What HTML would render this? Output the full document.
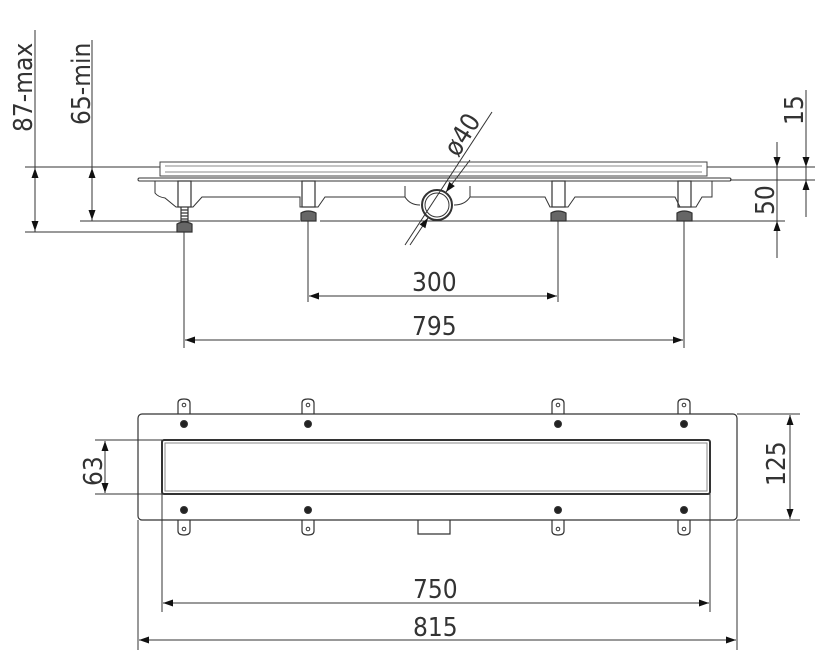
<!DOCTYPE html>
<html><head><meta charset="utf-8"><style>body{margin:0;background:#fff}svg{display:block}text{font-family:"DejaVu Sans Condensed","Liberation Sans",sans-serif;fill:#333;font-weight:300}</style></head><body>
<svg width="823" height="670" viewBox="0 0 823 670" xmlns="http://www.w3.org/2000/svg">
<defs>
<marker id="a" viewBox="0 0 10 10" refX="10" refY="5" markerWidth="12" markerHeight="10" markerUnits="userSpaceOnUse" orient="auto-start-reverse"><path d="M0,1.5 L10,5 L0,8.5 Z" fill="#111"/></marker>
</defs>
<g stroke="#333" stroke-width="1" fill="none">
<!-- side view reference lines -->
<line x1="25" y1="167" x2="160" y2="167"/>
<line x1="707" y1="167" x2="815" y2="167"/>
<line x1="730" y1="180" x2="815" y2="180"/>
<line x1="80" y1="221" x2="300" y2="221"/>
<line x1="320" y1="221" x2="785" y2="221"/>
<line x1="25" y1="232" x2="180" y2="232"/>
<!-- 87 max -->
<line x1="35" y1="30" x2="35" y2="232"/>
<line x1="35" y1="200" x2="35" y2="168" marker-end="url(#a)"/>
<line x1="35" y1="200" x2="35" y2="231" marker-end="url(#a)"/>
<!-- 65 min -->
<line x1="92" y1="40" x2="92" y2="221"/>
<line x1="92" y1="195" x2="92" y2="168" marker-end="url(#a)"/>
<line x1="92" y1="195" x2="92" y2="220" marker-end="url(#a)"/>
<!-- 15 -->
<line x1="806" y1="90" x2="806" y2="217"/>
<line x1="806" y1="140" x2="806" y2="167" marker-end="url(#a)"/>
<line x1="806" y1="210" x2="806" y2="180" marker-end="url(#a)"/>
<!-- 50 -->
<line x1="777" y1="142" x2="777" y2="258"/>
<line x1="777" y1="145" x2="777" y2="167" marker-end="url(#a)"/>
<line x1="777" y1="250" x2="777" y2="221" marker-end="url(#a)"/>
<!-- grate / body -->
<rect x="160" y="162" width="547" height="14" stroke="#444"/>
<line x1="165" y1="166" x2="702" y2="166" stroke="#888"/>
<line x1="165" y1="172" x2="702" y2="172" stroke="#888"/>
<rect x="138" y="178" width="593" height="3" rx="1.5"/>
<path d="M155,181 V193 Q158,197 165,198 L176,207 H193 L202,197 H300 L300,207 H318 L325,197 H405 V186 M470,186 V197 H545 L550,207 H568 L575,197 H675 L680,207 H696 L702,197 H712 V181" stroke="#333"/>
<path d="M405,186 V197 Q410,205 420,205 M454,205 Q465,205 470,197 V186" />
<circle cx="437" cy="205" r="15" stroke-width="2"/>
<circle cx="437" cy="205" r="12"/>
<!-- feet -->
<g stroke-width="1.2">
<rect x="178" y="181" width="13" height="26"/><rect x="302" y="181" width="13" height="26"/><rect x="552" y="181" width="13" height="26"/><rect x="678" y="181" width="13" height="26"/>
<path d="M181,207 v15 h7 v-15 M181,210 h7 M181,213 h7 M181,216 h7 M181,219 h7"/>
<path d="M177,232 v-8 q7,-4 15,0 v8 z" fill="#666"/>
<path d="M301,221 v-8 q7,-4 15,0 v8 z" fill="#666"/>
<path d="M551,221 v-8 q7,-4 15,0 v8 z" fill="#666"/>
<path d="M677,221 v-8 q7,-4 15,0 v8 z" fill="#666"/>
</g>
<!-- 300 / 795 -->
<line x1="184" y1="232" x2="184" y2="348"/>
<line x1="308" y1="221" x2="308" y2="302"/>
<line x1="558" y1="221" x2="558" y2="302"/>
<line x1="684" y1="221" x2="684" y2="348"/>
<line x1="433" y1="296" x2="309" y2="296" marker-end="url(#a)"/>
<line x1="433" y1="296" x2="557" y2="296" marker-end="url(#a)"/>
<line x1="434" y1="340" x2="185" y2="340" marker-end="url(#a)"/>
<line x1="434" y1="340" x2="683" y2="340" marker-end="url(#a)"/>
<!-- phi 40 leader -->
<line x1="405" y1="245" x2="492" y2="112"/>
<line x1="470" y1="160" x2="446" y2="192" marker-end="url(#a)"/>
<line x1="410" y1="245" x2="428" y2="218" marker-end="url(#a)"/>
<!-- top view -->
<rect x="138" y="414" width="599" height="106" rx="4" stroke-width="1.2"/>
<rect x="162" y="440" width="548" height="54" rx="2" stroke-width="2"/>
<rect x="165" y="443" width="542" height="48" stroke="#888"/>
<path d="M418,520 v14 h32 v-14" stroke-width="1.2"/>
<g stroke-width="1.2">
<path d="M178,414 v-11 q0,-4 6,-4 q6,0 6,4 v11 M302,414 v-11 q0,-4 6,-4 q6,0 6,4 v11 M552,414 v-11 q0,-4 6,-4 q6,0 6,4 v11 M678,414 v-11 q0,-4 6,-4 q6,0 6,4 v11"/>
<path d="M178,520 v11 q0,4 6,4 q6,0 6,-4 v-11 M302,520 v11 q0,4 6,4 q6,0 6,-4 v-11 M552,520 v11 q0,4 6,4 q6,0 6,-4 v-11 M678,520 v11 q0,4 6,4 q6,0 6,-4 v-11"/>
</g>
<g fill="#222">
<circle cx="184" cy="424" r="3.5"/><circle cx="308" cy="424" r="3.5"/><circle cx="558" cy="424" r="3.5"/><circle cx="684" cy="424" r="3.5"/>
<circle cx="184" cy="510" r="3.5"/><circle cx="308" cy="510" r="3.5"/><circle cx="558" cy="510" r="3.5"/><circle cx="684" cy="510" r="3.5"/>
</g>
<g>
<circle cx="184" cy="405" r="1.8"/><circle cx="308" cy="405" r="1.8"/><circle cx="558" cy="405" r="1.8"/><circle cx="684" cy="405" r="1.8"/>
<circle cx="184" cy="529" r="1.8"/><circle cx="308" cy="529" r="1.8"/><circle cx="558" cy="529" r="1.8"/><circle cx="684" cy="529" r="1.8"/>
</g>
<!-- 63 -->
<line x1="95" y1="440" x2="162" y2="440"/>
<line x1="95" y1="494" x2="162" y2="494"/>
<line x1="105" y1="467" x2="105" y2="441" marker-end="url(#a)"/>
<line x1="105" y1="467" x2="105" y2="493" marker-end="url(#a)"/>
<!-- 125 -->
<line x1="737" y1="414" x2="800" y2="414"/>
<line x1="737" y1="520" x2="800" y2="520"/>
<line x1="790" y1="467" x2="790" y2="415" marker-end="url(#a)"/>
<line x1="790" y1="467" x2="790" y2="519" marker-end="url(#a)"/>
<!-- 750/815 -->
<line x1="162" y1="494" x2="162" y2="612"/>
<line x1="710" y1="494" x2="710" y2="612"/>
<line x1="138" y1="520" x2="138" y2="650"/>
<line x1="737" y1="520" x2="737" y2="650"/>
<line x1="436" y1="603" x2="163" y2="603" marker-end="url(#a)"/>
<line x1="436" y1="603" x2="709" y2="603" marker-end="url(#a)"/>
<line x1="437" y1="640" x2="139" y2="640" marker-end="url(#a)"/>
<line x1="437" y1="640" x2="736" y2="640" marker-end="url(#a)"/>
</g>
<g font-size="26">
<text transform="translate(32,132) rotate(-90)">87-max</text>
<text transform="translate(90,125) rotate(-90)">65-min</text>
<text transform="translate(803,125) rotate(-90)">15</text>
<text transform="translate(774,215) rotate(-90)">50</text>
<text transform="translate(458,158) rotate(-58)">ø40</text>
<text x="412" y="291">300</text>
<text x="412" y="335">795</text>
<text transform="translate(102,486) rotate(-90)">63</text>
<text transform="translate(785,486) rotate(-90)">125</text>
<text x="413" y="598">750</text>
<text x="413" y="636">815</text>
</g>
</svg>
</body></html>
